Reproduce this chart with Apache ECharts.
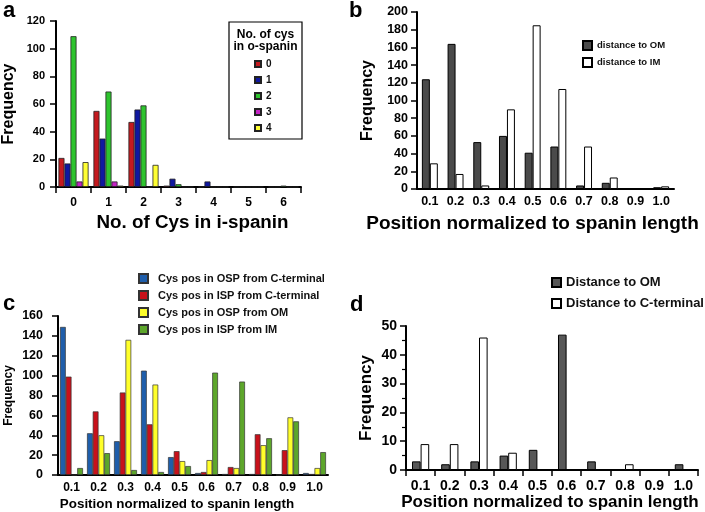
<!DOCTYPE html>
<html><head><meta charset="utf-8">
<script src="https://cdn.jsdelivr.net/npm/echarts@6/dist/echarts.min.js"></script>
<style>html,body{margin:0;padding:0;background:#fff}#c{width:705px;height:512px}</style>
</head><body><div id="c"></div>
<script>
// ---------- data ----------
const catsA = ['0','1','2','3','4','5','6'];
const namesA = ['0','1','2','3','4'];
const a0 = [21, 55, 47, 1, 0, 0, 0];
const a1 = [17, 35, 56, 6, 4, 0, 0];
const a2 = [109, 69, 59, 2, 0, 0, 1];
const a3 = [4, 4, 0, 0, 0, 0, 0];
const a4 = [18, 1, 16, 0, 0, 0, 0];

const catsPos = ['0.1','0.2','0.3','0.4','0.5','0.6','0.7','0.8','0.9','1.0'];
const bOM = [124, 164, 53, 60, 41, 48, 4, 7, 1, 2];
const bIM = [29, 17, 4, 90, 185, 113, 48, 13, 1, 3];

const cOSPc = [149, 42, 34, 105, 18, 2, 1, 1, 0, 2];
const cISPc = [99, 64, 83, 51, 24, 3, 8, 41, 25, 1];
const cOSPom = [0, 40, 136, 91, 14, 15, 7, 30, 58, 7];
const cISPim = [7, 22, 5, 3, 9, 103, 94, 37, 54, 23];

const dOM = [3, 2, 3, 5, 7, 47, 3, 0, 0, 2];
const dCT = [9, 9, 46, 6, 0, 0, 0, 2, 0, 0];

// ---------- chart ----------
const FF = 'Liberation Sans, Arial, Helvetica, sans-serif';
const chart = echarts.init(document.getElementById('c'));

function xAx(gi, data, fs, margin, tick, name, nfs, ngap, npad) {
  return {
    type: 'category', gridIndex: gi, data: data,
    axisLine: {lineStyle: {color: '#000', width: 2}},
    axisTick: {show: tick, length: 6, lineStyle: {color: '#000', width: 1.5}},
    axisLabel: {color: '#000', fontSize: fs, fontWeight: 'bold', fontFamily: FF, margin: margin},
    name: name, nameLocation: 'middle', nameGap: ngap,
    nameTextStyle: {color: '#000', fontSize: nfs, fontWeight: 'bold', fontFamily: FF, padding: npad},
    splitLine: {show: false}
  };
}
function yAx(gi, max, itv, fs, margin, nfs, ngap, minor) {
  return {
    type: 'value', gridIndex: gi, min: 0, max: max, interval: itv,
    axisLine: {show: true, lineStyle: {color: '#000', width: 2}},
    axisTick: {show: true, length: 6, lineStyle: {color: '#000', width: 1.5}},
    minorTick: {show: !!minor, splitNumber: 2, length: 4, lineStyle: {color: '#000', width: 1.2}},
    axisLabel: {color: '#000', fontSize: fs, fontWeight: 'bold', fontFamily: FF, margin: margin},
    splitLine: {show: false},
    name: 'Frequency', nameLocation: 'middle', nameGap: ngap,
    nameTextStyle: {color: '#000', fontSize: nfs, fontWeight: 'bold', fontFamily: FF}
  };
}
function bar(name, data, gi, color, bw, bc, gap) {
  return {
    type: 'bar', name: name, data: data, xAxisIndex: gi, yAxisIndex: gi,
    barGap: '0%', barCategoryGap: gap,
    itemStyle: {color: color, borderColor: bc, borderWidth: bw},
    emphasis: {disabled: true}, animation: false
  };
}

const aCols = ['#c41a1f', '#1018a0', '#2ec42e', '#c424c4', '#ffff33'];
const aData = [a0, a1, a2, a3, a4];
const series = [];
namesA.forEach((n, i) => series.push(bar(n, aData[i], 0, aCols[i], 0.8, '#222', '14%')));
series.push(bar('distance to OM', bOM, 1, '#4a4a4a', 1, '#000', '38%'));
series.push(bar('distance to IM', bIM, 1, '#ffffff', 1, '#000', '38%'));
series.push(bar('Cys pos in OSP from C-terminal', cOSPc, 2, '#1f5eab', 0.7, '#333', '15%'));
series.push(bar('Cys pos in ISP from C-terminal', cISPc, 2, '#c8111b', 0.7, '#333', '15%'));
series.push(bar('Cys pos in OSP from OM', cOSPom, 2, '#ffff2a', 0.7, '#333', '15%'));
series.push(bar('Cys pos in ISP from IM', cISPim, 2, '#5da62b', 0.7, '#333', '15%'));
series.push(bar('Distance to OM', dOM, 3, '#575757', 1, '#000', '41%'));
series.push(bar('Distance to C-terminal', dCT, 3, '#ffffff', 1, '#000', '41%'));

function leg(names, left, top, iw, fs, gap, pad) {
  return {
    data: names, orient: 'vertical', left: left, top: top, padding: 0,
    itemWidth: iw, itemHeight: iw, itemGap: gap, icon: 'rect', selectedMode: false,
    textStyle: {color: '#111', fontSize: fs, lineHeight: fs, fontWeight: 'bold', fontFamily: FF, padding: [0, 0, 0, pad]}
  };
}

const txt = (t, x, y, fs, align) => ({type: 'text', x: x, y: y, style: {text: t, fontSize: fs, fontWeight: 'bold', fontFamily: FF, fill: '#000', align: align || 'left', verticalAlign: 'middle'}});

chart.setOption({
  animation: false,
  backgroundColor: '#fff',
  grid: [
    {left: 55, top: 21, width: 246, height: 166},
    {left: 417, top: 12, width: 257, height: 177},
    {left: 58, top: 316, width: 270, height: 159},
    {left: 406, top: 326, width: 292, height: 144}
  ],
  xAxis: [
    xAx(0, catsA, 12, 10, true, 'No. of Cys in i-spanin', 18.8, 26, [0, 0, 0, 28]),
    xAx(1, catsPos, 12.5, 6, false, 'Position normalized to spanin length', 19, 25, [0, 26, 0, 0]),
    xAx(2, catsPos, 12, 7, false, 'Position normalized to spanin length', 13.4, 23, [0, 32, 0, 0]),
    xAx(3, catsPos, 14, 9, true, 'Position normalized to spanin length', 17, 22, [0, 4, 0, 0])
  ],
  yAxis: [
    yAx(0, 120, 20, 11, 11, 16, 39),
    yAx(1, 200, 20, 12.5, 9, 16, 41),
    yAx(2, 160, 20, 12.5, 15, 12, 43),
    yAx(3, 50, 10, 14, 9, 17, 31, true)
  ],
  legend: [
    leg(namesA, 254, 59, 6, 10, 6, 0),
    leg(['distance to OM', 'distance to IM'], 582, 40, 9, 9.5, 6, 0),
    leg(['Cys pos in OSP from C-terminal', 'Cys pos in ISP from C-terminal', 'Cys pos in OSP from OM', 'Cys pos in ISP from IM'], 138, 273, 9, 11, 6, 5),
    leg(['Distance to OM', 'Distance to C-terminal'], 551, 276, 9, 13, 8, 0)
  ],
  graphic: [
    {type: 'rect', shape: {x: 229, y: 22, width: 73, height: 117}, style: {fill: 'none', stroke: '#000', lineWidth: 1.2}},
    txt('No. of cys', 265.5, 35, 12, 'center'),
    txt('in o-spanin', 265.5, 46.5, 12, 'center'),
    txt('a', 3, 10.5, 22),
    txt('b', 349, 10.5, 22),
    txt('c', 3, 303.5, 22),
    txt('d', 350, 304.5, 22)
  ],
  series: series
});
</script></body></html>
